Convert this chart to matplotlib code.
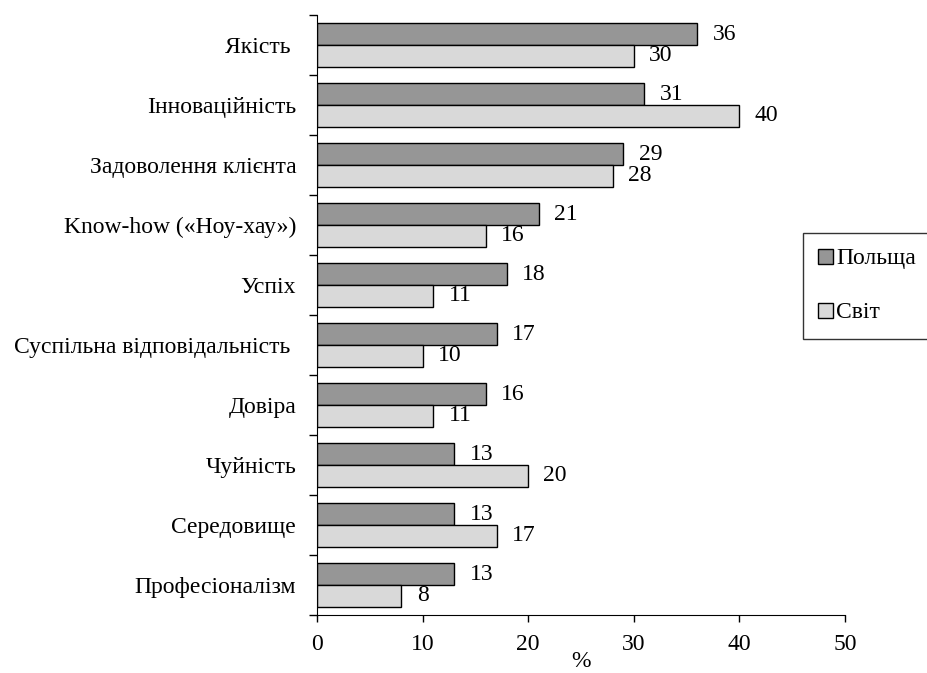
import matplotlib
matplotlib.use("Agg")
import matplotlib.pyplot as plt
import numpy as np

categories = ["Якість ", "Інноваційність", "Задоволення клієнта", "Know-how («Ноу-хау»)",
              "Успіх", "Суспільна відповідальність ", "Довіра", "Чуйність",
              "Середовище", "Професіоналізм"]
poland = [36, 31, 29, 21, 18, 17, 16, 13, 13, 13]
world = [30, 40, 28, 16, 11, 10, 11, 20, 17, 8]
series_names = ["Польща", "Світ"]
xticks = [0, 10, 20, 30, 40, 50]

plt.rcParams['font.family'] = ['Liberation Serif', 'DejaVu Serif']
FS = 17

fig = plt.figure(figsize=(9.28, 6.73), dpi=100)
ax = fig.add_axes([317/928, 1-615/673, (845-317)/928, (615-15)/673])

n = len(categories)
centers = np.arange(n)[::-1] + 0.5
h = 0.36
c_dark = "#969696"
c_light = "#d9d9d9"
b1 = ax.barh(centers + h/2, poland, height=h, color=c_dark, edgecolor="black", linewidth=1.0, label=series_names[0])
b2 = ax.barh(centers - h/2, world, height=h, color=c_light, edgecolor="black", linewidth=1.0, label=series_names[1])

for bars, vals in ((b1, poland), (b2, world)):
    for rect, v in zip(bars, vals):
        ax.annotate(str(v), (v, rect.get_y() + rect.get_height()/2), xytext=(11, 0),
                    textcoords="offset points", va="center", ha="left", fontsize=FS)

ax.set_xlim(0, 50)
ax.set_ylim(0, n)
ax.set_xticks(xticks)
ax.set_xticklabels([str(t) for t in xticks], fontsize=FS)
ax.set_yticks(np.arange(n + 1))
ax.set_yticklabels([])
ax.set_yticks(centers, minor=True)
ax.set_yticklabels(categories, minor=True, fontsize=FS)
ax.tick_params(axis='y', which='major', length=6, direction='out', width=1)
ax.tick_params(axis='y', which='minor', length=0, pad=15)
ax.tick_params(axis='x', length=5, direction='out', width=1, pad=9)
for s in ("top", "right"):
    ax.spines[s].set_visible(False)
ax.set_xlabel("%", fontsize=FS, labelpad=-3)

leg = fig.legend(handles=[b1, b2], labels=series_names, loc="upper left",
                 bbox_to_anchor=(803/928, 1-233/673), fontsize=FS, frameon=True,
                 fancybox=False, edgecolor="black", handlelength=0.6, handleheight=0.6,
                 handletextpad=0.15, labelspacing=1.4, borderpad=0.65, borderaxespad=0)
leg.get_frame().set_linewidth(1.0)

fig.savefig("out.png", dpi=100)
